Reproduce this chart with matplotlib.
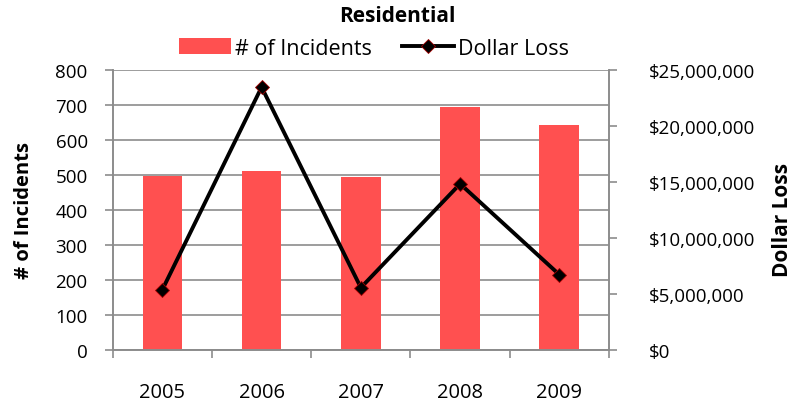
import numpy as np
import matplotlib
matplotlib.use("Agg")
import matplotlib.pyplot as plt
from matplotlib.ticker import FuncFormatter

years = ["2005", "2006", "2007", "2008", "2009"]
incidents = [496, 511, 493, 695, 643]
dollar_loss = [5380000, 23450000, 5560000, 14820000, 6720000]

plt.rcParams['font.family'] = ['Open Sans', 'DejaVu Sans']
grid_col = "#8c8c8c"

fig = plt.figure(figsize=(7.95, 4.02), dpi=100)
ax = fig.add_axes([0.1418, 0.1269, 0.6242, 0.6971])
ax2 = ax.twinx()

x = np.arange(len(years))
bars = ax.bar(x, incidents, width=0.4, color="#ff5050", zorder=2, label="# of Incidents")
ax.set_xlim(-0.5, len(years) - 0.5)
ax.set_ylim(0, 800)
ax.set_yticks(range(0, 801, 100))
ax.yaxis.grid(True, color=grid_col, linewidth=1.2, zorder=0)
ax.set_axisbelow(True)

ax.set_xticks(x)
ax.set_xticklabels(years)
ax.set_xticks(np.arange(-0.5, len(years), 1.0), minor=True)
ax.tick_params(axis="x", which="major", length=0, pad=23, labelsize=14.5)
ax.tick_params(axis="x", which="minor", length=6, width=1.2, color=grid_col, direction="out")
ax.tick_params(axis="y", length=6, width=1.2, color=grid_col, labelsize=13.5, pad=12)

line, = ax2.plot(x, dollar_loss, color="black", linewidth=2.8, marker="D", markersize=7.5,
                 markerfacecolor="black", markeredgecolor="#a00000", markeredgewidth=0.6,
                 label="Dollar Loss", zorder=3)
ax2.set_ylim(0, 25000000)
ax2.set_yticks(range(0, 25000001, 5000000))
ax2.yaxis.set_major_formatter(FuncFormatter(lambda v, p: "${:,.0f}".format(v)))
ax2.tick_params(axis="y", length=6, width=1.2, color=grid_col, labelsize=13.5, pad=23)

for a in (ax, ax2):
    a.spines["top"].set_visible(False)
    for s in ("left", "right", "bottom"):
        a.spines[s].set_color(grid_col)
        a.spines[s].set_linewidth(1.2)

ax.set_ylabel("# of Incidents", fontsize=14.5, fontweight="bold")
ax2.set_ylabel("Dollar Loss", fontsize=15, fontweight="bold", rotation=90)
ax.yaxis.label.set_va("center")
ax2.yaxis.label.set_va("center")
ax.yaxis.set_label_coords(-0.179, 0.5)
ax2.yaxis.set_label_coords(1.3506, 0.468)

fig.text(0.5, 0.958, "Residential", ha="center", va="center", fontsize=15, fontweight="bold")
fig.legend(handles=[bars, line], loc="center", bbox_to_anchor=(0.471, 0.878), ncol=2,
           frameon=False, fontsize=15.5, handlelength=2.4, columnspacing=1.4,
           handletextpad=0.2, borderpad=0.1)

fig.savefig("out.png", dpi=100)
